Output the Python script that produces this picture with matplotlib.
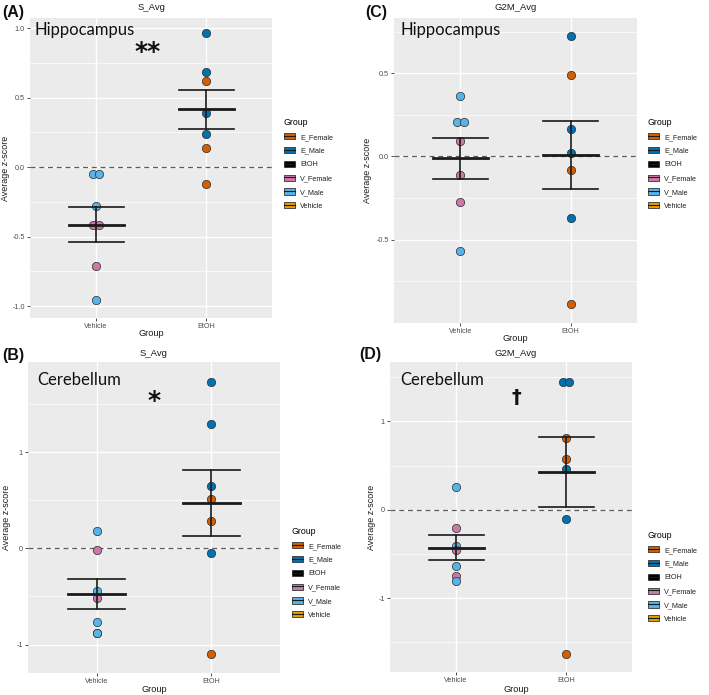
import matplotlib
matplotlib.use("Agg")
import matplotlib.pyplot as plt
from matplotlib.patches import Patch
from matplotlib.lines import Line2D
import numpy as np

W, H = 709, 695
fig = plt.figure(figsize=(W / 100, H / 100), dpi=100)

# ---------------- data ----------------
categories = ["Vehicle", "EtOH"]
legend_labels = ["E_Female", "E_Male", "EtOH", "V_Female", "V_Male", "Vehicle"]
palette = {"E_Female": "#D55E00", "E_Male": "#0072B2", "EtOH": "#000000",
           "V_Female": "#CC79A7", "V_Male": "#56B4E9", "Vehicle": "#E69F00"}

# Panel A: S_Avg, Hippocampus
a_veh_vals = [-0.053, -0.053, -0.28, -0.42, -0.42, -0.715, -0.957]
a_veh_grp = ["V_Male", "V_Male", "V_Male", "V_Female", "V_Female", "V_Female", "V_Male"]
a_etoh_vals = [0.966, 0.683, 0.617, 0.39, 0.237, 0.137, -0.12]
a_etoh_grp = ["E_Male", "E_Male", "E_Female", "E_Male", "E_Male", "E_Female", "E_Female"]

# Panel B: S_Avg, Cerebellum
b_veh_vals = [0.18, -0.015, -0.44, -0.52, -0.77, -0.875, -0.88]
b_veh_grp = ["V_Male", "V_Female", "V_Male", "V_Female", "V_Male", "V_Male", "V_Male"]
b_etoh_vals = [1.73, 1.29, 0.65, 0.51, 0.284, -0.046, -1.10]
b_etoh_grp = ["E_Male", "E_Male", "E_Male", "E_Female", "E_Female", "E_Male", "E_Female"]

# Panel C: G2M_Avg, Hippocampus
c_veh_vals = [0.363, 0.207, 0.207, 0.092, -0.11, -0.275, -0.569]
c_veh_grp = ["V_Male", "V_Male", "V_Male", "V_Female", "V_Female", "V_Female", "V_Male"]
c_etoh_vals = [0.727, 0.49, 0.163, 0.018, -0.08, -0.368, -0.89]
c_etoh_grp = ["E_Male", "E_Female", "E_Male", "E_Male", "E_Female", "E_Male", "E_Female"]

# Panel D: G2M_Avg, Cerebellum
d_veh_vals = [0.257, -0.203, -0.41, -0.46, -0.64, -0.75, -0.80]
d_veh_grp = ["V_Male", "V_Female", "V_Male", "V_Female", "V_Male", "V_Female", "V_Male"]
d_etoh_vals = [1.44, 1.44, 0.81, 0.57, 0.457, -0.10, -1.63]
d_etoh_grp = ["E_Male", "E_Male", "E_Female", "E_Female", "E_Male", "E_Male", "E_Female"]

# ---------------- style ----------------
TXT = "Liberation Sans"
LABEL_FONT = ["Lato", "DejaVu Sans"]
GRID_BG = "#EBEBEB"
TICK_COL = "#4D4D4D"
DOT_DX = 0.06


def px(x, y):
    return x / W, 1 - y / H


def make_axes(l, r, t, b):
    return fig.add_axes([l / W, 1 - b / H, (r - l) / W, (b - t) / H])


def draw_panel(ax, veh_vals, veh_grp, etoh_vals, etoh_grp, ylim, major, minor, fmt):
    ax.set_facecolor(GRID_BG)
    for s in ax.spines.values():
        s.set_visible(False)
    ax.set_xlim(0.4, 2.6)
    ax.set_ylim(*ylim)
    for m in minor:
        ax.axhline(m, color="white", lw=0.5, zorder=0.5)
    for m in major:
        ax.axhline(m, color="white", lw=1.0, zorder=0.6)
    for xi in (1, 2):
        ax.axvline(xi, color="white", lw=1.0, zorder=0.6)
    ax.axhline(0, color="#5e5e5e", lw=0.9, ls=(0, (4, 3)), zorder=1)

    for xi, vals, grps in ((1, veh_vals, veh_grp), (2, etoh_vals, etoh_grp)):
        vals = np.asarray(vals, float)
        # center identical values side by side (dot-plot stacking)
        xs = np.full(len(vals), float(xi))
        for v in np.unique(vals):
            idx = np.where(vals == v)[0]
            if len(idx) > 1:
                offs = (np.arange(len(idx)) - (len(idx) - 1) / 2) * DOT_DX
                xs[idx] = xi + offs
        for x, v, g in zip(xs, vals, grps):
            ax.plot(x, v, "o", ms=6.0, mfc=palette[g], mec="#2b2b2b", mew=0.5, zorder=3)
        mean = vals.mean()
        se = vals.std(ddof=1) / np.sqrt(len(vals))
        hw = 0.25
        ax.plot([xi, xi], [mean - se, mean + se], color="#1a1a1a", lw=1.2, zorder=4)
        ax.plot([xi - hw, xi + hw], [mean + se, mean + se], color="#1a1a1a", lw=1.2, zorder=4)
        ax.plot([xi - hw, xi + hw], [mean - se, mean - se], color="#1a1a1a", lw=1.2, zorder=4)
        ax.plot([xi - hw, xi + hw], [mean, mean], color="#1a1a1a", lw=2.0, zorder=4)

    ax.set_xticks([1, 2])
    ax.set_xticklabels(categories)
    ax.set_yticks(major)
    ax.set_yticklabels([fmt(v) for v in major])
    ax.tick_params(length=2.5, width=0.6, color="#333333", labelcolor=TICK_COL,
                   labelsize=5.2, pad=1.2)
    for lab in ax.get_xticklabels() + ax.get_yticklabels():
        lab.set_fontfamily(TXT)


def fmt1(v):
    return f"{v:.1f}".replace("-0.0", "0.0")


def fmt0(v):
    return f"{v:.0f}"


def add_legend(x, y):
    handles = []
    for lab in legend_labels:
        handles.append((Patch(facecolor=palette[lab], edgecolor="#333333", lw=0.6),
                        Line2D([0], [0], color="#1a1a1a", lw=0.8)))
    leg = fig.legend(handles, legend_labels, loc="upper left",
                     bbox_to_anchor=px(x, y), bbox_transform=fig.transFigure,
                     frameon=False, prop={"family": TXT, "size": 5.2},
                     title="Group", title_fontproperties={"family": TXT, "size": 6.3},
                     alignment="left", handlelength=1.5, handleheight=0.95,
                     labelspacing=0.86, handletextpad=0.75, borderpad=0,
                     borderaxespad=0)
    for t in leg.get_texts():
        t.set_color("#222222")


# ---------------- panels ----------------
axA = make_axes(30, 272, 18, 318)
draw_panel(axA, a_veh_vals, a_veh_grp, a_etoh_vals, a_etoh_grp,
           (-1.086, 1.072), [-1.0, -0.5, 0.0, 0.5, 1.0], [-0.75, -0.25, 0.25, 0.75], fmt1)

axB = make_axes(28, 280, 362, 673)
draw_panel(axB, b_veh_vals, b_veh_grp, b_etoh_vals, b_etoh_grp,
           (-1.296, 1.94), [-1, 0, 1], [-0.5, 0.5, 1.5], fmt0)

axC = make_axes(394, 637, 18, 323)
draw_panel(axC, c_veh_vals, c_veh_grp, c_etoh_vals, c_etoh_grp,
           (-1.002, 0.833), [-0.5, 0.0, 0.5], [-0.75, -0.25, 0.25, 0.75], fmt1)

axD = make_axes(390, 632, 362, 672)
draw_panel(axD, d_veh_vals, d_veh_grp, d_etoh_vals, d_etoh_grp,
           (-1.834, 1.67), [-1, 0, 1], [-1.5, -0.5, 0.5, 1.5], fmt0)

# titles, axis labels
for (x, y, s) in [(152, 8, "S_Avg"), (154, 354, "S_Avg"), (516, 8, "G2M_Avg"), (516, 354, "G2M_Avg")]:
    fig.text(*px(x, y), s, ha="center", va="center", fontsize=6.8, family=TXT, color="#1a1a1a")
for (x, y) in [(151, 334), (154, 689), (515, 339), (516, 689)]:
    fig.text(*px(x, y), "Group", ha="center", va="center", fontsize=6.6, family=TXT, color="#1a1a1a")
for (x, y) in [(6, 168), (7, 517), (368, 170), (371, 517)]:
    fig.text(*px(x, y), "Average z-score", ha="center", va="center", rotation=90,
             fontsize=6.4, family=TXT, color="#1a1a1a")

# panel letters
for (x, y, s) in [(13, 12, "(A)"), (13, 356, "(B)"), (376, 12, "(C)"), (370, 354, "(D)")]:
    fig.text(*px(x, y), s, ha="center", va="center", fontsize=11.5, fontweight="bold",
             family=TXT, color="#111111")

# region labels
for (x, y, s) in [(35, 30, "Hippocampus"), (37, 380, "Cerebellum"),
                  (400, 30, "Hippocampus"), (400, 380, "Cerebellum")]:
    fig.text(*px(x, y), s, ha="left", va="center", fontsize=12, family=LABEL_FONT, color="#111111")

# significance marks
fig.text(*px(148, 52), "**", ha="center", va="center", fontsize=18, fontweight="bold",
         family="DejaVu Sans", color="#111111")
fig.text(*px(154, 401), "*", ha="center", va="center", fontsize=18, fontweight="bold",
         family="DejaVu Sans", color="#111111")
fig.text(*px(516, 398), "\u2020", ha="center", va="center", fontsize=14, fontweight="bold",
         family="DejaVu Sans", color="#111111")

# legends
add_legend(284, 118)
add_legend(292, 527)
add_legend(648, 118)
add_legend(648, 531)

fig.savefig("out.png", dpi=100)
